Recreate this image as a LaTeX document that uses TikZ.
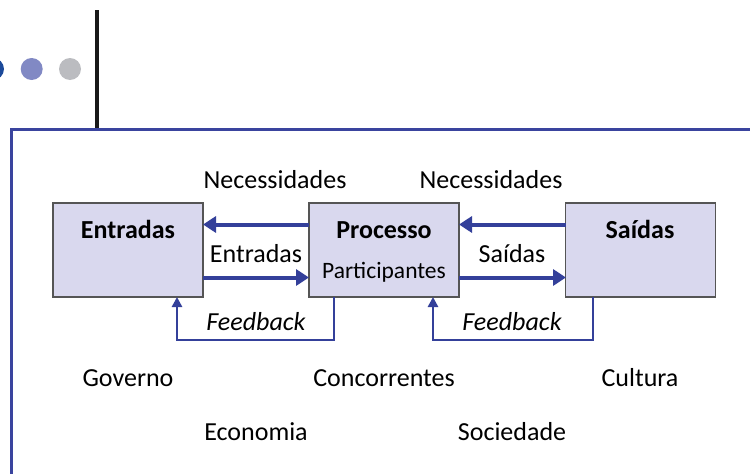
\documentclass[tikz,border=0pt]{standalone}
\usepackage{fontspec}
\setmainfont{Carlito}
\usetikzlibrary{arrows.meta}
\definecolor{frameblue}{HTML}{3A449E}
\definecolor{arrowblue}{HTML}{34409A}
\definecolor{boxfill}{HTML}{D9D8EE}
\definecolor{boxline}{HTML}{555555}
\definecolor{dotblue}{HTML}{1C4A9A}
\definecolor{dotpurple}{HTML}{8189C4}
\definecolor{dotgray}{HTML}{BBBCC0}
\tikzset{
  blk/.style={draw=boxline, line width=1.5pt, fill=boxfill, minimum width=150pt, minimum height=94pt, inner sep=0pt},
  lbl/.style={font=\fontsize{26}{29}\selectfont, inner sep=0pt, anchor=base},
  ttl/.style={font=\fontsize{26}{29}\selectfont\bfseries, inner sep=0pt, anchor=base},
  thick arr/.style={draw=arrowblue, line width=4pt, -{Triangle[length=13pt,width=16pt]}},
  fb arr/.style={draw=arrowblue, line width=2.5pt, -{Triangle[length=10pt,width=10pt]}},
}
\begin{document}
\begin{tikzpicture}[x=1pt,y=-1pt]
\useasboundingbox (0,0) rectangle (750,474);
% dots
\fill[dotblue] (-7,69) circle (11);
\fill[dotpurple] (31.7,69) circle (11);
\fill[dotgray] (70,69) circle (11);
% black vertical line
\draw[black!90, line width=3.2pt] (97,10) -- (97,129);
% frame
\draw[frameblue, line width=3pt] (752,129) -- (11,129) -- (11,476);
% boxes
\node[blk] (ent) at (128,250) {};
\node[blk] (pro) at (384,250) {};
\node[blk] (sai) at (640.5,250) {};
\node[ttl] (tent) at (128,238) {Entradas};
\node[ttl] (tpro) at (384,238) {Processo};
\node[ttl] (tsai) at (640,238) {Saídas};
\node[lbl, font=\fontsize{23.5}{27}\selectfont] (part) at (384,278) {Participantes};
% arrows
\coordinate (p1) at (309,224.5);
\coordinate (e1) at (203,224.5);
\coordinate (e2) at (203,277.5);
\coordinate (p2) at (309,277.5);
\coordinate (s1) at (566,224.5);
\coordinate (p3) at (459,224.5);
\coordinate (p4) at (459,277.5);
\coordinate (s2) at (566,277.5);
\draw[thick arr] (p1) -- (e1);
\draw[thick arr] (e2) -- (p2);
\draw[thick arr] (s1) -- (p3);
\draw[thick arr] (p4) -- (s2);
% feedback
\coordinate (fb1a) at (334,297);
\coordinate (fb1b) at (177,297);
\coordinate (fb2a) at (593,297);
\coordinate (fb2b) at (433,297);
\draw[fb arr] (fb1a) -- (334,340) -- (177,340) -- (fb1b);
\draw[fb arr] (fb2a) -- (593,340) -- (433,340) -- (fb2b);
% labels
\node[lbl] (n1) at (275,188) {Necessidades};
\node[lbl] (n2) at (491,188) {Necessidades};
\node[lbl] (l1) at (256,262) {Entradas};
\node[lbl] (l2) at (512,262) {Saídas};
\node[lbl, font=\fontsize{26}{29}\selectfont\itshape] (f1) at (256,330) {Feedback};
\node[lbl, font=\fontsize{26}{29}\selectfont\itshape] (f2) at (512,330) {Feedback};
\node[lbl] (g) at (128,386) {Governo};
\node[lbl] (c) at (384,386) {Concorrentes};
\node[lbl] (cu) at (640,386) {Cultura};
\node[lbl] (ec) at (256,440) {Economia};
\node[lbl] (so) at (512,440) {Sociedade};
\end{tikzpicture}
\end{document}
